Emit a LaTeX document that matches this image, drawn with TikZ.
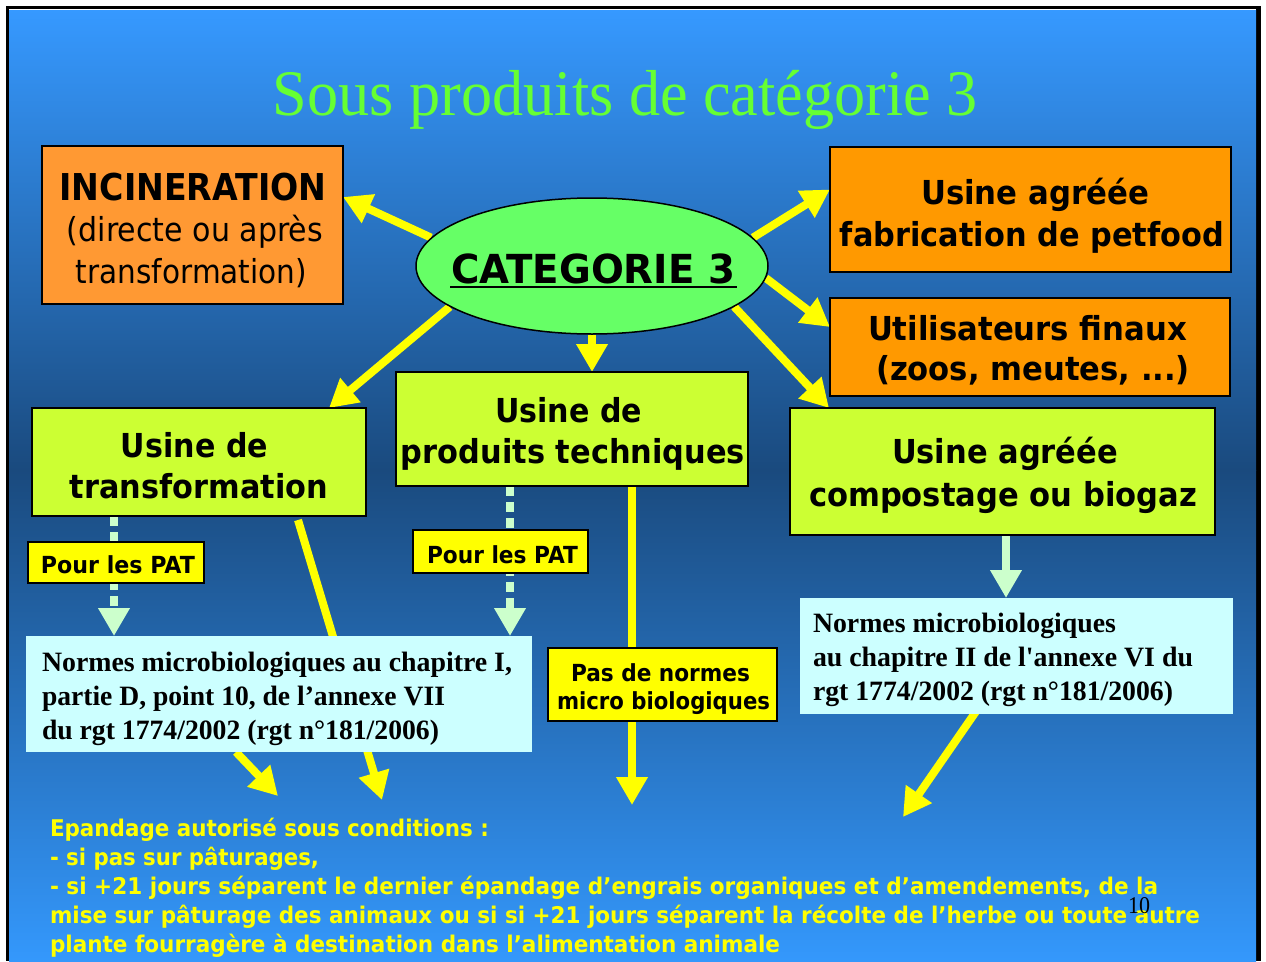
\documentclass[tikz,border=0pt]{standalone}
\usepackage{fontspec}
\setmainfont{Liberation Serif}
\newfontfamily\dv{DejaVu Sans}
\newfontfamily\sernm{Liberation Serif}[Ligatures=TeXOff]
\usetikzlibrary{arrows.meta,calc,shapes.geometric}
\pgfdeclarelayer{bg}
\pgfdeclarelayer{arr}
\pgfsetlayers{bg,arr,main}
\definecolor{bgl}{HTML}{3699FF}
\definecolor{bgm}{HTML}{2E82D9}
\definecolor{bgd}{HTML}{1A4A7E}
\definecolor{bgm2}{HTML}{2A7CCF}
\definecolor{bgl2}{HTML}{3498FC}
\definecolor{titc}{HTML}{66FF33}
\definecolor{oral}{HTML}{FF9933}
\definecolor{orad}{HTML}{FF9900}
\definecolor{grn}{HTML}{CCFF33}
\definecolor{catc}{HTML}{66FF66}
\definecolor{yel}{HTML}{FFFF00}
\definecolor{normc}{HTML}{CCFFFF}
\definecolor{pg}{HTML}{CCFFCC}
\newcommand\fw[2]{\resizebox{#1pt}{\height}{#2}}
\newcommand\fHd{\dv\bfseries\fontsize{33}{40}\selectfont}
\newcommand\fReg{\dv\fontsize{33}{40}\selectfont}
\newcommand\fInc{\dv\bfseries\fontsize{37}{44}\selectfont}
\newcommand\fCat{\dv\bfseries\fontsize{40}{48}\selectfont}
\newcommand\fSm{\dv\bfseries\fontsize{23.5}{28}\selectfont}
\newcommand\fNo{\bfseries\fontsize{28}{34}\selectfont}
\newcommand\fBot{\dv\bfseries\fontsize{23}{28}\selectfont}
\begin{document}
\begin{tikzpicture}[x=1pt,y=-1pt,
  box/.style={draw=black, line width=2pt, rectangle, inner sep=0pt, outer sep=0pt, anchor=north west},
  nbox/.style={rectangle, inner sep=0pt, outer sep=0pt, anchor=north west, fill=normc},
  txt/.style={inner sep=0pt, outer sep=0pt, anchor=base},
  ltxt/.style={inner sep=0pt, outer sep=0pt, anchor=base west},
  yarr/.style={draw=yel, line width=8pt, -{Triangle[length=28pt,width=30pt]}},
  garr/.style={draw=pg, line width=8pt, -{Triangle[length=28pt,width=30pt]}},
  gdash/.style={garr, dash pattern=on 10pt off 6pt}]
\useasboundingbox (0,0) rectangle (1266,961);
\begin{pgfonlayer}{bg}
\fill[white] (0,0) rectangle (1266,961);
\fill[black] (6,6) rectangle (1261,961);
\shade[top color=bgl, middle color=bgm, bottom color=bgd] (9,10) rectangle (1256,470);
\shade[top color=bgd, middle color=bgm2, bottom color=bgl2] (9,470) rectangle (1256,961);
\fill[white] (9,9) rectangle (1256,10);
\end{pgfonlayer}

% title
\node[txt, font=\fontsize{65}{70}\selectfont, text=titc] (title) at (625.5,115) {\fw{705}{Sous produits de catégorie 3}};

% boxes
\node[box, fill=oral, minimum width=301pt, minimum height=158pt] (inc) at (42,146) {};
\node[ellipse, draw=black, line width=1.5pt, fill=catc, minimum width=352pt, minimum height=136pt, inner sep=0pt] (cat) at (592,266) {};
\node[box, fill=orad, minimum width=401pt, minimum height=125pt] (pet) at (830,147) {};
\node[box, fill=orad, minimum width=400pt, minimum height=98pt] (uti) at (830,298) {};
\node[box, fill=grn, minimum width=334pt, minimum height=108pt] (tra) at (32,408) {};
\node[box, fill=grn, minimum width=352pt, minimum height=114pt] (pro) at (396,372) {};
\node[box, fill=grn, minimum width=425pt, minimum height=127pt] (com) at (790,408) {};
\node[box, fill=yel, minimum width=176pt, minimum height=41pt] (pat1) at (28,542) {};
\node[box, fill=yel, minimum width=175pt, minimum height=43pt] (pat2) at (413,530) {};
\node[nbox, minimum width=506pt, minimum height=116pt] (nL) at (26,636) {};
\node[box, fill=yel, minimum width=229pt, minimum height=73pt] (pas) at (548,648) {};
\node[nbox, minimum width=433pt, minimum height=116pt] (nR) at (800,598) {};

% free ends
\coordinate (e1) at (278,796);
\coordinate (e2) at (382,800);
\coordinate (e3) at (632,805);
\coordinate (e4) at (903,817);

% texts
\node[txt, font=\fInc] (inc1) at (193,200) {\fw{267}{INCINERATION}};
\node[txt, font=\fReg] (inc2) at (195,241) {\fw{256}{(directe ou après}};
\node[txt, font=\fReg] (inc3) at (191.5,283) {\fw{231}{transformation)}};
\node[txt, font=\fCat] (ct) at (593,283) {\fw{284}{CATEGORIE 3}};
\draw[line width=2.5pt] ($(ct.base west)+(-1,4)$) -- ($(ct.base east)+(2,4)$);
\node[txt, font=\fHd] (pet1) at (1035,204) {\fw{228}{Usine agréée}};
\node[txt, font=\fHd] (pet2) at (1032,246) {\fw{384}{fabrication de petfood}};
\node[txt, font=\fHd] (uti1) at (1027.5,340) {\fw{319}{Utilisateurs finaux}};
\node[txt, font=\fHd] (uti2) at (1033,380) {\fw{314}{(zoos, meutes, ...)}};
\node[txt, font=\fHd] (tra1) at (194.5,457) {\fw{147}{Usine de}};
\node[txt, font=\fHd] (tra2) at (199,498) {\fw{258}{transformation}};
\node[txt, font=\fHd] (pro1) at (568.5,422) {\fw{147}{Usine de}};
\node[txt, font=\fHd] (pro2) at (573,463) {\fw{344}{produits techniques}};
\node[txt, font=\fHd] (com1) at (1005,463) {\fw{226}{Usine agréée}};
\node[txt, font=\fHd] (com2) at (1003,506) {\fw{388}{compostage ou biogaz}};
\node[txt, font=\fSm] (pat1t) at (118,573) {\fw{154}{Pour les PAT}};
\node[txt, font=\fSm] (pat2t) at (502.5,563) {\fw{151}{Pour les PAT}};
\node[txt, font=\fSm] (pas1) at (660.5,681) {\fw{179}{Pas de normes}};
\node[txt, font=\fSm] (pas2) at (663.5,709) {\fw{213}{micro biologiques}};
\node[ltxt, font=\fNo] (nl1) at (42,671) {\fw{470}{Normes microbiologiques au chapitre I,}};
\node[ltxt, font=\fNo] (nl2) at (42,705) {\fw{403}{partie D, point 10, de l’annexe VII}};
\node[ltxt, font=\fNo] (nl3) at (42,739) {\fw{397}{du rgt 1774/2002 (rgt n°181/2006)}};
\node[ltxt, font=\fNo] (nr1) at (813,632) {\fw{303}{Normes microbiologiques}};
\node[ltxt, font=\fNo] (nr2) at (813,666) {\fw{380}{au chapitre II de l{\sernm\bfseries '}annexe VI du}};
\node[ltxt, font=\fNo] (nr3) at (813,700) {\fw{360}{rgt 1774/2002 (rgt n°181/2006)}};
\node[ltxt, font=\fBot, text=yel] (b1) at (50,836) {\fw{439}{Epandage autorisé sous conditions :}};
\node[ltxt, font=\fBot, text=yel] (b2) at (50,865) {\fw{269}{- si pas sur pâturages,}};
\node[ltxt, font=\fBot, text=yel] (b3) at (50,894) {\fw{1108}{- si +21 jours séparent le dernier épandage d’engrais organiques et d’amendements, de la}};
\node[ltxt, font=\fBot, text=yel] (b4) at (50,923) {\fw{1150}{mise sur pâturage des animaux ou si si +21 jours séparent la récolte de l’herbe ou toute autre}};
\node[ltxt, font=\fBot, text=yel] (b5) at (50,952) {\fw{730}{plante fourragère à destination dans l’alimentation animale}};
\node[ltxt, font=\fontsize{24}{28}\selectfont] (pgn) at (1128,913) {\fw{22}{10}};

% connectors
\begin{pgfonlayer}{arr}
\draw[yarr] (cat.170) -- ($(inc.east)+(0,-28)$);
\draw[yarr] (cat.10) -- ($(pet.west)+(0,-20)$);
\draw[yarr] (cat.-4) -- ($(uti.west)+(0,-20)$);
\draw[yarr] (cat.-16) -- ($(com.north west)+(39,0)$);
\draw[yarr] (cat.196) -- ($(tra.north east)+(-37,0)$);
\draw[yarr] (cat.south) -- (cat.south |- pro.north);
\draw[gdash] ($(tra.south west)+(82,0)$) -- ($(nL.north west)+(88,0)$);
\draw[gdash] ($(pro.south west)+(114,0)$) -- ($(nL.north west)+(484,0)$);
\draw[yarr] ($(tra.south west)+(266,4)$) -- (e2);
\draw[yarr] ($(nL.south west)+(210,0)$) -- (e1);
\draw[yarr] ($(pro.south west)+(236,0)$) -- (e3);
\draw[garr] ($(com.south west)+(216,-7)$) -- ($(nR.north west)+(206,0)$);
\draw[yarr] ($(nR.south west)+(177,-4)$) -- (e4);
\end{pgfonlayer}
\end{tikzpicture}
\end{document}
